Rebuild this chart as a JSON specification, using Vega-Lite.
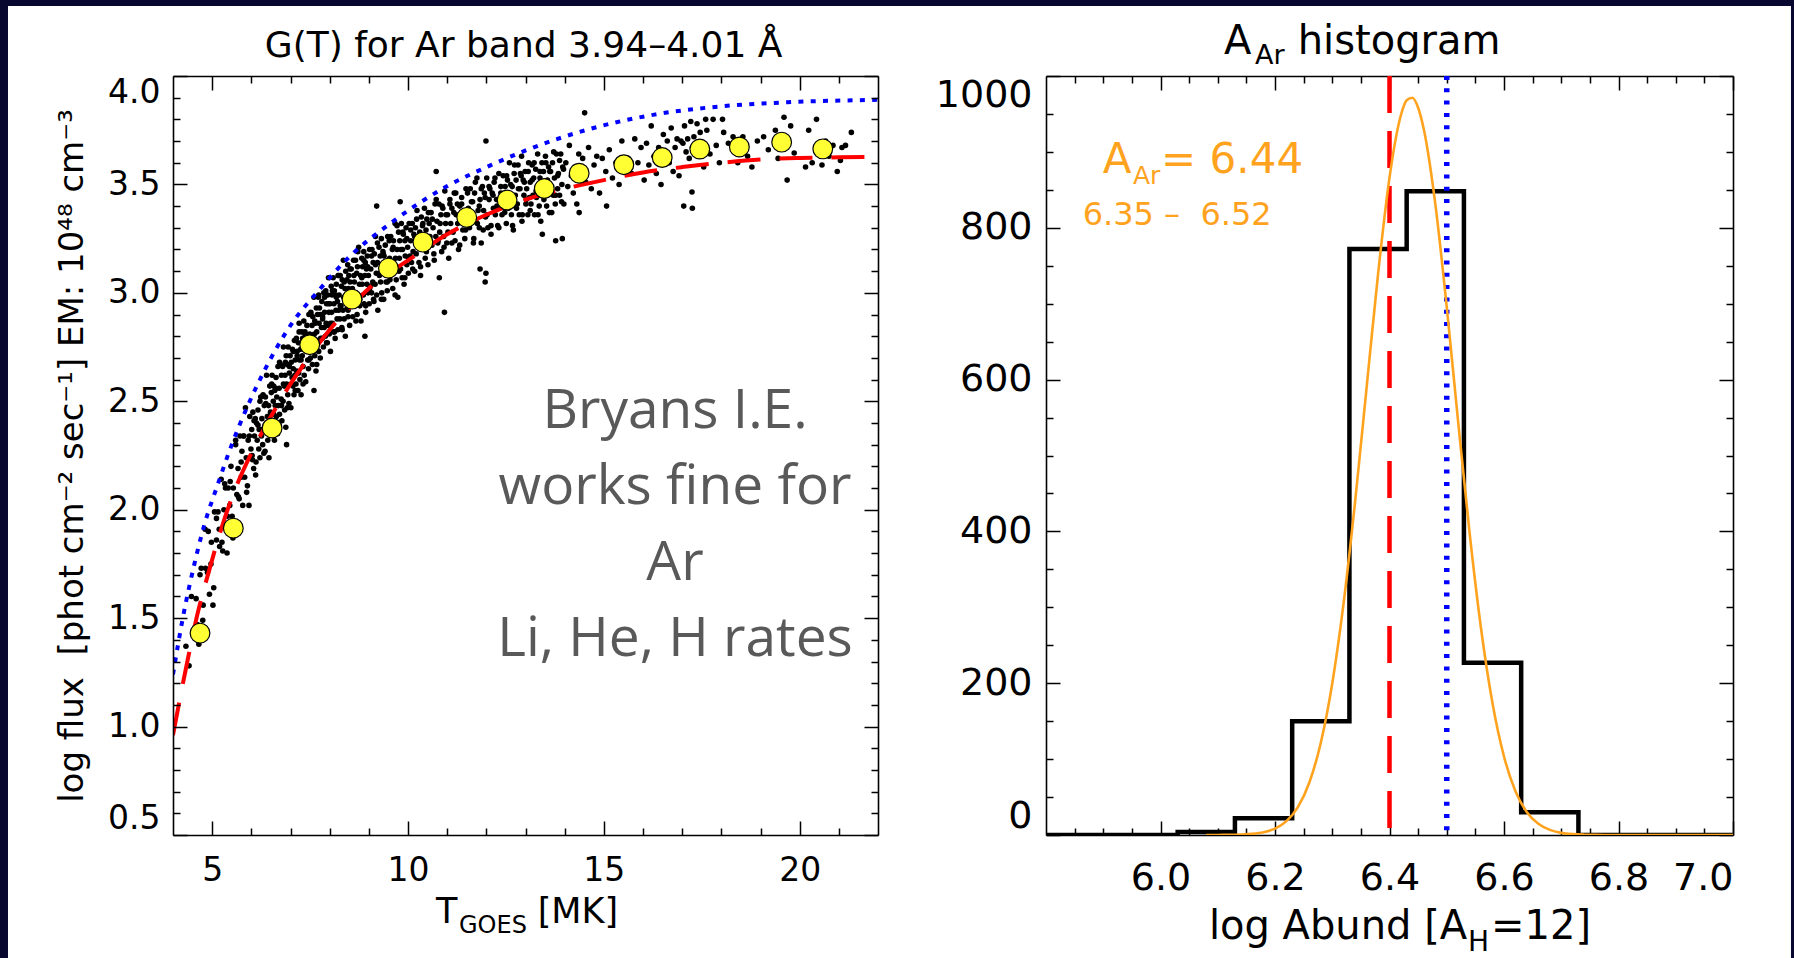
{
"$schema":"https://vega.github.io/schema/vega-lite/v6.json",
"background":"#07072f",
"padding":{"left":7,"top":5,"right":4,"bottom":0},
"autosize":{"type":"pad"},
"config":{"view":{"stroke":null},"axis":{"grid":false,"domainColor":"#000000","domainWidth":1.6,"tickColor":"#000000","tickWidth":1.5,"labelColor":"#000000","labelFont":"DejaVu Sans","titleFont":"DejaVu Sans","titleColor":"#000000","titleFontWeight":"normal","labelOverlap":false}},
"datasets":{
"pts":[
{"t":4.33,"f":1.37},{"t":4.41,"f":1.28},{"t":4.47,"f":1.60},
{"t":4.53,"f":1.43},{"t":4.59,"f":1.59},{"t":4.66,"f":1.38},{"t":4.72,"f":1.73},
{"t":4.77,"f":1.56},{"t":4.82,"f":1.91},{"t":4.88,"f":1.71},{"t":4.93,"f":1.61},{"t":4.98,"f":1.85},
{"t":5.02,"f":1.56},{"t":5.06,"f":1.99},{"t":5.11,"f":1.86},{"t":5.15,"f":1.99},{"t":5.19,"f":1.83},{"t":5.23,"f":2.14},
{"t":5.27,"f":1.81},{"t":5.30,"f":2.00},{"t":5.34,"f":2.10},{"t":5.38,"f":1.80},{"t":5.41,"f":2.10},{"t":5.45,"f":2.02},{"t":5.48,"f":2.20},
{"t":5.51,"f":1.97},{"t":5.54,"f":2.10},{"t":5.57,"f":1.93},{"t":5.60,"f":2.30},{"t":5.63,"f":2.07},{"t":5.66,"f":2.19},{"t":5.69,"f":2.05},{"t":5.71,"f":2.34},{"t":5.74,"f":2.15},
{"t":5.76,"f":2.27},{"t":5.78,"f":2.02},{"t":5.80,"f":2.34},{"t":5.83,"f":2.15},{"t":5.85,"f":2.47},{"t":5.87,"f":2.24},{"t":5.90,"f":2.11},{"t":5.92,"f":2.32},{"t":5.94,"f":2.02},{"t":5.96,"f":2.43},{"t":5.99,"f":2.28},
{"t":6.01,"f":2.37},{"t":6.03,"f":2.23},{"t":6.04,"f":2.45},{"t":6.06,"f":2.19},{"t":6.08,"f":2.34},{"t":6.10,"f":2.42},{"t":6.11,"f":2.16},{"t":6.13,"f":2.40},{"t":6.15,"f":2.32},{"t":6.17,"f":2.46},{"t":6.19,"f":2.28},{"t":6.20,"f":2.37},{"t":6.22,"f":2.24},{"t":6.24,"f":2.52},
{"t":6.26,"f":2.34},{"t":6.27,"f":2.42},{"t":6.29,"f":2.30},{"t":6.30,"f":2.53},{"t":6.32,"f":2.37},{"t":6.33,"f":2.48},{"t":6.35,"f":2.27},{"t":6.36,"f":2.52},{"t":6.38,"f":2.36},{"t":6.39,"f":2.62},{"t":6.41,"f":2.43},{"t":6.42,"f":2.32},{"t":6.44,"f":2.48},{"t":6.45,"f":2.24},{"t":6.47,"f":2.57},{"t":6.49,"f":2.45},
{"t":6.51,"f":2.54},{"t":6.52,"f":2.39},{"t":6.53,"f":2.62},{"t":6.55,"f":2.36},{"t":6.56,"f":2.50},{"t":6.57,"f":2.57},{"t":6.59,"f":2.32},{"t":6.60,"f":2.55},{"t":6.61,"f":2.48},{"t":6.63,"f":2.61},{"t":6.64,"f":2.43},{"t":6.65,"f":2.52},{"t":6.67,"f":2.39},{"t":6.68,"f":2.66},{"t":6.69,"f":2.48},{"t":6.71,"f":2.56},{"t":6.72,"f":2.44},{"t":6.74,"f":2.67},
{"t":6.76,"f":2.51},{"t":6.77,"f":2.62},{"t":6.78,"f":2.41},{"t":6.80,"f":2.66},{"t":6.81,"f":2.50},{"t":6.82,"f":2.75},{"t":6.84,"f":2.57},{"t":6.85,"f":2.46},{"t":6.86,"f":2.62},{"t":6.88,"f":2.38},{"t":6.89,"f":2.71},{"t":6.90,"f":2.58},{"t":6.92,"f":2.67},{"t":6.93,"f":2.53},{"t":6.94,"f":2.75},{"t":6.96,"f":2.49},{"t":6.97,"f":2.63},{"t":6.99,"f":2.71},
{"t":7.01,"f":2.47},{"t":7.02,"f":2.68},{"t":7.04,"f":2.61},{"t":7.05,"f":2.74},{"t":7.06,"f":2.57},{"t":7.07,"f":2.65},{"t":7.09,"f":2.53},{"t":7.10,"f":2.78},{"t":7.11,"f":2.62},{"t":7.12,"f":2.69},{"t":7.14,"f":2.58},{"t":7.15,"f":2.79},{"t":7.16,"f":2.64},{"t":7.17,"f":2.73},{"t":7.19,"f":2.55},{"t":7.20,"f":2.77},{"t":7.21,"f":2.63},{"t":7.22,"f":2.86},{"t":7.23,"f":2.69},{"t":7.24,"f":2.60},
{"t":7.26,"f":2.74},{"t":7.27,"f":2.53},{"t":7.29,"f":2.82},{"t":7.30,"f":2.71},{"t":7.31,"f":2.79},{"t":7.32,"f":2.66},{"t":7.34,"f":2.87},{"t":7.35,"f":2.62},{"t":7.36,"f":2.76},{"t":7.37,"f":2.82},{"t":7.39,"f":2.59},{"t":7.40,"f":2.80},{"t":7.41,"f":2.73},{"t":7.42,"f":2.85},{"t":7.44,"f":2.69},{"t":7.45,"f":2.77},{"t":7.46,"f":2.65},{"t":7.47,"f":2.90},{"t":7.48,"f":2.73},{"t":7.49,"f":2.81},
{"t":7.51,"f":2.70},{"t":7.52,"f":2.91},{"t":7.54,"f":2.76},{"t":7.55,"f":2.85},{"t":7.56,"f":2.67},{"t":7.57,"f":2.89},{"t":7.59,"f":2.76},{"t":7.60,"f":2.98},{"t":7.61,"f":2.81},{"t":7.62,"f":2.71},{"t":7.64,"f":2.86},{"t":7.65,"f":2.64},{"t":7.66,"f":2.93},{"t":7.67,"f":2.82},{"t":7.69,"f":2.90},{"t":7.70,"f":2.78},{"t":7.71,"f":2.98},{"t":7.72,"f":2.73},{"t":7.73,"f":2.86},{"t":7.74,"f":2.93},
{"t":7.76,"f":2.70},{"t":7.77,"f":2.90},{"t":7.79,"f":2.84},{"t":7.80,"f":2.96},{"t":7.81,"f":2.79},{"t":7.82,"f":2.88},{"t":7.84,"f":2.75},{"t":7.85,"f":3.00},{"t":7.86,"f":2.84},{"t":7.87,"f":2.91},{"t":7.89,"f":2.80},{"t":7.90,"f":3.01},{"t":7.91,"f":2.86},{"t":7.92,"f":2.95},{"t":7.94,"f":2.77},{"t":7.95,"f":2.99},{"t":7.96,"f":2.85},{"t":7.97,"f":3.07},{"t":7.98,"f":2.91},{"t":7.99,"f":2.81},
{"t":8.01,"f":2.95},{"t":8.02,"f":2.73},{"t":8.04,"f":3.03},{"t":8.05,"f":2.91},{"t":8.06,"f":2.99},{"t":8.07,"f":2.86},{"t":8.09,"f":3.07},{"t":8.10,"f":2.82},{"t":8.11,"f":2.95},{"t":8.12,"f":3.01},{"t":8.14,"f":2.79},{"t":8.15,"f":2.99},{"t":8.16,"f":2.92},{"t":8.17,"f":3.04},{"t":8.19,"f":2.88},{"t":8.20,"f":2.96},{"t":8.21,"f":2.83},{"t":8.22,"f":3.08},{"t":8.23,"f":2.92},{"t":8.24,"f":2.99},
{"t":8.26,"f":2.88},{"t":8.27,"f":3.08},{"t":8.29,"f":2.94},{"t":8.30,"f":3.03},{"t":8.31,"f":2.84},{"t":8.32,"f":3.06},{"t":8.34,"f":2.92},{"t":8.35,"f":3.15},{"t":8.36,"f":2.98},{"t":8.37,"f":2.88},{"t":8.39,"f":3.02},{"t":8.40,"f":2.80},{"t":8.41,"f":3.10},{"t":8.42,"f":2.98},{"t":8.44,"f":3.06},{"t":8.45,"f":2.93},{"t":8.46,"f":3.13},{"t":8.47,"f":2.89},{"t":8.48,"f":3.02},{"t":8.49,"f":3.08},
{"t":8.51,"f":2.85},{"t":8.52,"f":3.05},{"t":8.54,"f":2.99},{"t":8.55,"f":3.11},{"t":8.57,"f":2.94},{"t":8.58,"f":3.02},{"t":8.59,"f":2.89},{"t":8.61,"f":3.15},{"t":8.62,"f":2.98},{"t":8.63,"f":3.05},{"t":8.65,"f":2.94},{"t":8.66,"f":3.15},{"t":8.67,"f":3.00},{"t":8.69,"f":3.09},{"t":8.70,"f":2.90},{"t":8.71,"f":3.12},{"t":8.73,"f":2.99},{"t":8.74,"f":3.21},
{"t":8.76,"f":3.04},{"t":8.77,"f":2.94},{"t":8.79,"f":3.08},{"t":8.80,"f":2.87},{"t":8.82,"f":3.16},{"t":8.83,"f":3.04},{"t":8.84,"f":3.12},{"t":8.86,"f":2.99},{"t":8.87,"f":3.19},{"t":8.88,"f":2.95},{"t":8.90,"f":3.08},{"t":8.91,"f":3.14},{"t":8.92,"f":2.91},{"t":8.94,"f":3.11},{"t":8.95,"f":3.04},{"t":8.96,"f":3.17},{"t":8.98,"f":3.00},{"t":8.99,"f":3.08},
{"t":9.01,"f":2.95},{"t":9.02,"f":3.20},{"t":9.04,"f":3.03},{"t":9.05,"f":3.11},{"t":9.07,"f":3.00},{"t":9.08,"f":3.20},{"t":9.10,"f":3.05},{"t":9.11,"f":3.14},{"t":9.13,"f":2.96},{"t":9.14,"f":3.18},{"t":9.16,"f":3.04},{"t":9.17,"f":3.26},{"t":9.19,"f":3.09},{"t":9.20,"f":2.99},{"t":9.22,"f":3.14},{"t":9.23,"f":2.92},
{"t":9.26,"f":3.21},{"t":9.27,"f":3.09},{"t":9.29,"f":3.17},{"t":9.30,"f":3.05},{"t":9.32,"f":3.25},{"t":9.33,"f":3.00},{"t":9.35,"f":3.13},{"t":9.36,"f":3.19},{"t":9.38,"f":2.97},{"t":9.39,"f":3.17},{"t":9.41,"f":3.10},{"t":9.42,"f":3.22},{"t":9.44,"f":3.05},{"t":9.45,"f":3.13},{"t":9.47,"f":3.01},{"t":9.48,"f":3.26},
{"t":9.51,"f":3.09},{"t":9.53,"f":3.16},{"t":9.54,"f":3.06},{"t":9.56,"f":3.26},{"t":9.58,"f":3.11},{"t":9.60,"f":3.20},{"t":9.61,"f":3.02},{"t":9.63,"f":3.24},{"t":9.65,"f":3.10},{"t":9.67,"f":3.32},{"t":9.68,"f":3.16},{"t":9.70,"f":3.06},{"t":9.72,"f":3.20},{"t":9.74,"f":2.98},
{"t":9.76,"f":3.28},{"t":9.78,"f":3.16},{"t":9.79,"f":3.24},{"t":9.81,"f":3.11},{"t":9.83,"f":3.32},{"t":9.85,"f":3.07},{"t":9.86,"f":3.20},{"t":9.88,"f":3.27},{"t":9.90,"f":3.04},{"t":9.92,"f":3.24},{"t":9.93,"f":3.17},{"t":9.95,"f":3.30},{"t":9.97,"f":3.13},{"t":9.99,"f":3.21},
{"t":10.01,"f":3.09},{"t":10.03,"f":3.32},{"t":10.05,"f":3.17},{"t":10.07,"f":3.24},{"t":10.09,"f":3.14},{"t":10.11,"f":3.32},{"t":10.13,"f":3.19},{"t":10.15,"f":3.27},{"t":10.17,"f":3.10},{"t":10.19,"f":3.30},{"t":10.21,"f":3.18},{"t":10.23,"f":3.38},
{"t":10.26,"f":3.23},{"t":10.28,"f":3.14},{"t":10.30,"f":3.28},{"t":10.32,"f":3.08},{"t":10.34,"f":3.35},{"t":10.36,"f":3.24},{"t":10.38,"f":3.32},{"t":10.40,"f":3.21},{"t":10.42,"f":3.39},{"t":10.44,"f":3.16},{"t":10.46,"f":3.29},{"t":10.48,"f":3.34},
{"t":10.51,"f":3.13},{"t":10.54,"f":3.32},{"t":10.56,"f":3.26},{"t":10.59,"f":3.37},{"t":10.61,"f":3.22},{"t":10.64,"f":3.30},{"t":10.66,"f":3.18},{"t":10.69,"f":3.41},{"t":10.71,"f":3.26},{"t":10.74,"f":3.33},
{"t":10.76,"f":3.23},{"t":10.79,"f":3.41},{"t":10.81,"f":3.28},{"t":10.84,"f":3.36},{"t":10.86,"f":3.19},{"t":10.89,"f":3.39},{"t":10.91,"f":3.26},{"t":10.94,"f":3.47},{"t":10.96,"f":3.32},{"t":10.99,"f":3.23},
{"t":11.01,"f":3.36},{"t":11.04,"f":3.16},{"t":11.07,"f":3.43},{"t":11.09,"f":3.32},{"t":11.12,"f":3.39},{"t":11.15,"f":3.28},{"t":11.18,"f":3.46},{"t":11.20,"f":3.24},{"t":11.23,"f":3.36},
{"t":11.26,"f":3.41},{"t":11.29,"f":3.20},{"t":11.32,"f":3.40},{"t":11.34,"f":3.33},{"t":11.37,"f":3.44},{"t":11.40,"f":3.29},{"t":11.43,"f":3.36},{"t":11.45,"f":3.25},{"t":11.48,"f":3.48},
{"t":11.51,"f":3.32},{"t":11.54,"f":3.39},{"t":11.57,"f":3.30},{"t":11.59,"f":3.48},{"t":11.62,"f":3.34},{"t":11.65,"f":3.42},{"t":11.68,"f":3.25},{"t":11.70,"f":3.46},{"t":11.73,"f":3.33},
{"t":11.76,"f":3.53},{"t":11.79,"f":3.38},{"t":11.82,"f":3.30},{"t":11.84,"f":3.43},{"t":11.87,"f":3.23},{"t":11.90,"f":3.49},{"t":11.93,"f":3.38},{"t":11.95,"f":3.46},{"t":11.98,"f":3.35},
{"t":12.01,"f":3.53},{"t":12.04,"f":3.30},{"t":12.07,"f":3.43},{"t":12.09,"f":3.48},{"t":12.12,"f":3.27},{"t":12.15,"f":3.46},{"t":12.18,"f":3.39},{"t":12.20,"f":3.51},{"t":12.23,"f":3.36},
{"t":12.26,"f":3.43},{"t":12.29,"f":3.31},{"t":12.32,"f":3.55},{"t":12.34,"f":3.39},{"t":12.37,"f":3.46},{"t":12.40,"f":3.36},{"t":12.43,"f":3.54},{"t":12.45,"f":3.41},{"t":12.48,"f":3.49},
{"t":12.51,"f":3.32},{"t":12.54,"f":3.52},{"t":12.56,"f":3.39},{"t":12.59,"f":3.60},{"t":12.61,"f":3.45},{"t":12.64,"f":3.36},{"t":12.66,"f":3.49},{"t":12.69,"f":3.29},{"t":12.71,"f":3.55},{"t":12.74,"f":3.45},
{"t":12.76,"f":3.52},{"t":12.79,"f":3.41},{"t":12.81,"f":3.59},{"t":12.84,"f":3.36},{"t":12.86,"f":3.48},{"t":12.89,"f":3.54},{"t":12.91,"f":3.33},{"t":12.94,"f":3.52},{"t":12.96,"f":3.45},{"t":12.99,"f":3.56},
{"t":13.01,"f":3.41},{"t":13.03,"f":3.48},{"t":13.06,"f":3.36},{"t":13.08,"f":3.60},{"t":13.10,"f":3.44},{"t":13.12,"f":3.51},{"t":13.14,"f":3.41},{"t":13.17,"f":3.59},{"t":13.19,"f":3.45},{"t":13.21,"f":3.53},{"t":13.23,"f":3.36},
{"t":13.26,"f":3.57},{"t":13.28,"f":3.44},{"t":13.31,"f":3.64},{"t":13.33,"f":3.49},{"t":13.35,"f":3.40},{"t":13.37,"f":3.53},{"t":13.39,"f":3.33},{"t":13.42,"f":3.60},{"t":13.44,"f":3.49},{"t":13.46,"f":3.56},{"t":13.48,"f":3.45},
{"t":13.51,"f":3.63},{"t":13.54,"f":3.40},{"t":13.56,"f":3.52},{"t":13.59,"f":3.58},{"t":13.61,"f":3.37},{"t":13.64,"f":3.56},{"t":13.66,"f":3.49},{"t":13.69,"f":3.60},{"t":13.71,"f":3.45},{"t":13.74,"f":3.53},
{"t":13.76,"f":3.41},{"t":13.79,"f":3.64},{"t":13.82,"f":3.48},{"t":13.84,"f":3.55},{"t":13.87,"f":3.45},{"t":13.90,"f":3.64},{"t":13.93,"f":3.50},{"t":13.95,"f":3.58},{"t":13.98,"f":3.41},
{"t":14.03,"f":3.60},{"t":14.08,"f":3.49},{"t":14.12,"f":3.68},{"t":14.17,"f":3.54},{"t":14.22,"f":3.46},{"t":14.26,"f":3.58},{"t":14.31,"f":3.41},{"t":14.36,"f":3.64},{"t":14.41,"f":3.54},{"t":14.46,"f":3.62},
{"t":14.54,"f":3.51},{"t":14.61,"f":3.67},{"t":14.68,"f":3.48},{"t":14.75,"f":3.59},{"t":14.82,"f":3.63},{"t":14.89,"f":3.46},{"t":14.96,"f":3.62},
{"t":15.05,"f":3.56},{"t":15.14,"f":3.66},{"t":15.22,"f":3.53},{"t":15.31,"f":3.60},{"t":15.39,"f":3.50},{"t":15.46,"f":3.70},
{"t":15.54,"f":3.57},{"t":15.62,"f":3.62},{"t":15.71,"f":3.55},{"t":15.79,"f":3.71},{"t":15.87,"f":3.60},{"t":15.95,"f":3.67},
{"t":16.03,"f":3.52},{"t":16.09,"f":3.69},{"t":16.15,"f":3.59},{"t":16.21,"f":3.77},{"t":16.28,"f":3.63},{"t":16.34,"f":3.55},{"t":16.40,"f":3.67},{"t":16.46,"f":3.50},
{"t":16.52,"f":3.73},{"t":16.57,"f":3.63},{"t":16.62,"f":3.70},{"t":16.67,"f":3.60},{"t":16.72,"f":3.76},{"t":16.77,"f":3.56},{"t":16.82,"f":3.67},{"t":16.87,"f":3.71},{"t":16.92,"f":3.54},{"t":16.97,"f":3.70},
{"t":17.02,"f":3.69},{"t":17.06,"f":3.77},{"t":17.10,"f":3.65},{"t":17.14,"f":3.71},{"t":17.18,"f":3.62},{"t":17.22,"f":3.79},{"t":17.26,"f":3.67},{"t":17.30,"f":3.72},{"t":17.34,"f":3.64},{"t":17.38,"f":3.78},{"t":17.42,"f":3.68},{"t":17.46,"f":3.74},
{"t":17.55,"f":3.58},{"t":17.63,"f":3.75},{"t":17.71,"f":3.64},{"t":17.79,"f":3.80},{"t":17.87,"f":3.68},{"t":17.95,"f":3.60},
{"t":18.06,"f":3.74},{"t":18.18,"f":3.69},{"t":18.30,"f":3.72},{"t":18.42,"f":3.60},
{"t":18.55,"f":3.72},{"t":18.67,"f":3.63},{"t":18.78,"f":3.58},{"t":18.92,"f":3.70},
{"t":19.08,"f":3.72},{"t":19.20,"f":3.66},{"t":19.38,"f":3.75},{"t":19.45,"f":3.62},
{"t":19.60,"f":3.81},{"t":19.77,"f":3.77},{"t":19.86,"f":3.645},
{"t":20.15,"f":3.58},{"t":20.23,"f":3.75},{"t":20.32,"f":3.60},{"t":20.43,"f":3.80},
{"t":20.57,"f":3.59},{"t":20.66,"f":3.70},{"t":20.75,"f":3.63},{"t":20.85,"f":3.68},{"t":20.96,"f":3.56},
{"t":21.04,"f":3.61},{"t":21.08,"f":3.67},{"t":21.17,"f":3.68},{"t":21.32,"f":3.74},
{"t":10.93,"f":2.91},{"t":11.99,"f":3.09},{"t":11.97,"f":3.05},{"t":11.84,"f":3.11},{"t":10.80,"f":3.07},{"t":11.99,"f":3.70},{"t":10.72,"f":3.56},{"t":17.04,"f":3.40},{"t":17.26,"f":3.39},{"t":17.25,"f":3.465},{"t":19.68,"f":3.52},{"t":15.07,"f":3.40},{"t":14.37,"f":3.37},{"t":13.43,"f":3.27},{"t":13.77,"f":3.24},{"t":13.94,"f":3.25},{"t":14.51,"f":3.83},{"t":18.03,"f":3.80},{"t":17.60,"f":3.80},{"t":12.90,"f":3.63},{"t":9.20,"f":3.40},{"t":8.90,"f":2.80},{"t":7.60,"f":2.55},{"t":9.80,"f":3.42},{"t":6.90,"f":2.30},
{"t":4.62,"f":1.47},{"t":4.69,"f":1.70},{"t":4.76,"f":1.49},{"t":4.83,"f":1.73},{"t":4.90,"f":1.90},{"t":4.97,"f":1.75},{"t":5.04,"f":1.64},{"t":5.11,"f":1.96},{"t":5.18,"f":1.91},{"t":5.25,"f":1.85},{"t":5.32,"f":2.12},{"t":5.39,"f":1.97},{"t":5.46,"f":2.13},{"t":5.53,"f":1.87},{"t":5.60,"f":2.32},{"t":5.67,"f":2.06},{"t":5.74,"f":2.22},{"t":5.81,"f":2.34},{"t":5.88,"f":2.08},{"t":5.95,"f":2.34},
{"t":6.02,"f":2.25},{"t":6.07,"f":2.41},{"t":6.12,"f":2.22},{"t":6.17,"f":2.39},{"t":6.22,"f":2.50},{"t":6.27,"f":2.37},{"t":6.32,"f":2.26},{"t":6.37,"f":2.49},{"t":6.42,"f":2.43},{"t":6.47,"f":2.37},
{"t":6.52,"f":2.58},{"t":6.57,"f":2.44},{"t":6.62,"f":2.56},{"t":6.67,"f":2.35},{"t":6.72,"f":2.68},{"t":6.77,"f":2.48},{"t":6.82,"f":2.58},{"t":6.87,"f":2.68},{"t":6.92,"f":2.47},{"t":6.97,"f":2.66},
{"t":7.02,"f":2.58},{"t":7.07,"f":2.73},{"t":7.12,"f":2.55},{"t":7.17,"f":2.71},{"t":7.22,"f":2.82},{"t":7.27,"f":2.69},{"t":7.32,"f":2.58},{"t":7.37,"f":2.81},{"t":7.42,"f":2.75},{"t":7.47,"f":2.69},
{"t":7.52,"f":2.90},{"t":7.57,"f":2.76},{"t":7.62,"f":2.87},{"t":7.67,"f":2.67},{"t":7.72,"f":2.99},{"t":7.77,"f":2.79},{"t":7.82,"f":2.89},{"t":7.87,"f":2.98},{"t":7.92,"f":2.77},{"t":7.97,"f":2.95},
{"t":8.02,"f":2.86},{"t":8.07,"f":3.01},{"t":8.12,"f":2.82},{"t":8.17,"f":2.98},{"t":8.22,"f":3.08},{"t":8.27,"f":2.94},{"t":8.32,"f":2.83},{"t":8.37,"f":3.05},{"t":8.42,"f":2.99},{"t":8.47,"f":2.92},
{"t":8.52,"f":3.11},{"t":8.57,"f":2.97},{"t":8.62,"f":3.08},{"t":8.67,"f":2.87},{"t":8.72,"f":3.19},{"t":8.77,"f":2.97},{"t":8.82,"f":3.07},{"t":8.87,"f":3.15},{"t":8.92,"f":2.94},{"t":8.97,"f":3.12},
{"t":9.02,"f":3.02},{"t":9.07,"f":3.17},{"t":9.12,"f":2.97},{"t":9.17,"f":3.13},{"t":9.22,"f":3.23},{"t":9.27,"f":3.08},{"t":9.32,"f":2.97},{"t":9.37,"f":3.18},{"t":9.42,"f":3.12},{"t":9.47,"f":3.05},
{"t":9.52,"f":3.24},{"t":9.57,"f":3.10},{"t":9.62,"f":3.21},{"t":9.67,"f":2.99},{"t":9.72,"f":3.31},{"t":9.77,"f":3.10},{"t":9.82,"f":3.20},{"t":9.87,"f":3.28},{"t":9.92,"f":3.07},{"t":9.97,"f":3.25},
{"t":10.02,"f":3.16},{"t":10.07,"f":3.29},{"t":10.12,"f":3.11},{"t":10.17,"f":3.26},{"t":10.22,"f":3.34},{"t":10.27,"f":3.22},{"t":10.32,"f":3.12},{"t":10.37,"f":3.31},{"t":10.42,"f":3.26},{"t":10.47,"f":3.19},
{"t":10.52,"f":3.37},{"t":10.57,"f":3.24},{"t":10.62,"f":3.34},{"t":10.67,"f":3.15},{"t":10.72,"f":3.43},{"t":10.77,"f":3.24},{"t":10.82,"f":3.32},{"t":10.87,"f":3.40},{"t":10.92,"f":3.21},{"t":10.97,"f":3.36},
{"t":11.02,"f":3.28},{"t":11.07,"f":3.41},{"t":11.12,"f":3.23},{"t":11.17,"f":3.37},{"t":11.22,"f":3.46},{"t":11.27,"f":3.32},{"t":11.32,"f":3.22},{"t":11.37,"f":3.41},{"t":11.42,"f":3.35},{"t":11.47,"f":3.29},
{"t":11.52,"f":3.46},{"t":11.57,"f":3.33},{"t":11.62,"f":3.42},{"t":11.67,"f":3.23},{"t":11.72,"f":3.51},{"t":11.77,"f":3.32},{"t":11.82,"f":3.40},{"t":11.87,"f":3.48},{"t":11.92,"f":3.29},{"t":11.97,"f":3.44},
{"t":12.02,"f":3.36},{"t":12.07,"f":3.49},{"t":12.12,"f":3.31},{"t":12.17,"f":3.45},{"t":12.22,"f":3.53},{"t":12.27,"f":3.40},{"t":12.32,"f":3.30},{"t":12.37,"f":3.49},{"t":12.42,"f":3.43},{"t":12.47,"f":3.37},
{"t":12.52,"f":3.54},{"t":12.57,"f":3.41},{"t":12.62,"f":3.50},{"t":12.67,"f":3.31},{"t":12.72,"f":3.59},{"t":12.77,"f":3.39},{"t":12.82,"f":3.48},{"t":12.87,"f":3.55},{"t":12.92,"f":3.36},{"t":12.97,"f":3.51},
{"t":13.02,"f":3.43},{"t":13.07,"f":3.56},{"t":13.12,"f":3.38},{"t":13.17,"f":3.52},{"t":13.22,"f":3.60},{"t":13.27,"f":3.47},{"t":13.32,"f":3.36},{"t":13.37,"f":3.56},{"t":13.42,"f":3.50},{"t":13.47,"f":3.43},
{"t":13.52,"f":3.60},{"t":13.57,"f":3.47},{"t":13.62,"f":3.56},{"t":13.67,"f":3.37},{"t":13.72,"f":3.65},{"t":13.77,"f":3.45},{"t":13.82,"f":3.54},{"t":13.87,"f":3.61},{"t":13.92,"f":3.42},{"t":13.97,"f":3.57}
],
"circ":[{"t":4.69,"f":1.431},{"t":5.54,"f":1.915},{"t":6.53,"f":2.377},{"t":7.49,"f":2.761},{"t":8.57,"f":2.971},{"t":9.50,"f":3.114},{"t":10.38,"f":3.234},{"t":11.50,"f":3.348},{"t":12.53,"f":3.428},{"t":13.48,"f":3.481},{"t":14.37,"f":3.552},{"t":15.51,"f":3.591},{"t":16.49,"f":3.624},{"t":17.45,"f":3.663},{"t":18.46,"f":3.673},{"t":19.54,"f":3.695},{"t":20.59,"f":3.664}],
"red":[{"t":4.0,"f":0.96},{"t":4.2,"f":1.15},{"t":4.4,"f":1.33},{"t":4.6,"f":1.50},{"t":4.8,"f":1.64},{"t":5.0,"f":1.77},{"t":5.3,"f":1.95},{"t":5.6,"f":2.10},{"t":6.0,"f":2.26},{"t":6.5,"f":2.43},{"t":7.0,"f":2.58},{"t":7.5,"f":2.71},{"t":8.0,"f":2.83},{"t":8.5,"f":2.93},{"t":9.0,"f":3.02},{"t":9.5,"f":3.09},{"t":10,"f":3.15},{"t":11,"f":3.27},{"t":12,"f":3.36},{"t":13,"f":3.43},{"t":14,"f":3.48},{"t":15,"f":3.52},{"t":16,"f":3.555},{"t":17,"f":3.58},{"t":18,"f":3.60},{"t":19,"f":3.615},{"t":20,"f":3.622},{"t":21,"f":3.625},{"t":22,"f":3.627}],
"blue":[{"t":4.0,"f":1.24},{"t":4.25,"f":1.50},{"t":4.54,"f":1.745},{"t":4.8,"f":1.93},{"t":5.14,"f":2.115},{"t":5.48,"f":2.29},{"t":5.91,"f":2.48},{"t":6.33,"f":2.64},{"t":7.0,"f":2.85},{"t":7.74,"f":3.015},{"t":8.43,"f":3.153},{"t":9.62,"f":3.33},{"t":10.98,"f":3.49},{"t":12.13,"f":3.59},{"t":12.98,"f":3.655},{"t":14.59,"f":3.753},{"t":16.29,"f":3.822},{"t":17.99,"f":3.86},{"t":19.69,"f":3.879},{"t":22,"f":3.89}],
"hist":[{"a":5.8,"n":0},{"a":6.03,"n":4},{"a":6.13,"n":22},{"a":6.23,"n":150},{"a":6.33,"n":772},{"a":6.43,"n":848},{"a":6.53,"n":227},{"a":6.63,"n":30},{"a":6.73,"n":0},{"a":7.0,"n":0}],
"gauss":[{"a":6.08,"n":0.02},{"a":6.10,"n":0.07},{"a":6.12,"n":0.2},{"a":6.14,"n":0.6},{"a":6.16,"n":1.5},{"a":6.18,"n":3.7},{"a":6.20,"n":8.5},{"a":6.22,"n":18.3},{"a":6.24,"n":36.8},{"a":6.26,"n":69.2},{"a":6.28,"n":121.6},{"a":6.30,"n":199.7},{"a":6.32,"n":306.5},{"a":6.34,"n":439.6},{"a":6.36,"n":589.5},{"a":6.38,"n":739.1},{"a":6.40,"n":866.1},{"a":6.42,"n":948.6},{"a":6.43,"n":968},{"a":6.44,"n":971.3},{"a":6.45,"n":958.2},{"a":6.46,"n":929.6},{"a":6.48,"n":831.6},{"a":6.50,"n":695.5},{"a":6.52,"n":543.7},{"a":6.54,"n":397.3},{"a":6.56,"n":271.4},{"a":6.58,"n":173.3},{"a":6.60,"n":103.4},{"a":6.62,"n":57.7},{"a":6.64,"n":30.1},{"a":6.66,"n":14.7},{"a":6.68,"n":6.7},{"a":6.70,"n":2.8},{"a":6.72,"n":1.1},{"a":6.74,"n":0.4},{"a":6.76,"n":0.15},{"a":6.80,"n":0},{"a":7.0,"n":0}]
},
"bounds":"flush",
"spacing":168,
"hconcat":[
{
"width":705,"height":759,
"data":{"values":[{}]},
"resolve":{"axis":{"x":"independent","y":"independent"}},
"layer":[
{"mark":{"type":"rect","fill":"#ffffff","strokeWidth":0},
 "encoding":{"x":{"datum":-0.213,"type":"quantitative","scale":{"domain":[4,22],"nice":false,"zero":false},"axis":null},"x2":{"datum":45.31},
 "y":{"datum":4.3228,"type":"quantitative","scale":{"domain":[0.5,4],"nice":false,"zero":false},"axis":null},"y2":{"datum":-0.0718}}},
{"data":{"name":"pts"},"mark":{"type":"circle","color":"#000000","size":31,"opacity":1},
 "encoding":{"x":{"field":"t","type":"quantitative","scale":{"domain":[4,22],"nice":false,"zero":false},"axis":{"orient":"bottom","zindex":2,"values":[5,10,15,20],"format":"d","tickSize":-14,"labelPadding":33,"labelFontSize":33,"title":null}},
 "y":{"field":"f","type":"quantitative","scale":{"domain":[0.5,4],"nice":false,"zero":false},"axis":{"orient":"left","zindex":2,"values":[0.5,1,1.5,2,2.5,3,3.5,4],"format":".1f","tickSize":-14,"labelPadding":27,"labelFontSize":33,"labelFlush":true,"labelFlushOffset":0,"title":"log flux\u00a0 [phot cm⁻² sec⁻¹] EM: 10⁴⁸ cm⁻³","titleFontSize":34,"titlePadding":18}}}},
{"data":{"name":"blue"},"mark":{"type":"line","color":"#0000ff","strokeWidth":4,"strokeDash":[5,7.3],"interpolate":"monotone","clip":true},
 "encoding":{"x":{"field":"t","type":"quantitative","scale":{"domain":[4,22],"nice":false,"zero":false},"axis":{"orient":"bottom","zindex":2,"values":[6,7,8,9,11,12,13,14,16,17,18,19,21],"tickSize":-7,"labels":false,"domain":false,"title":null}},
 "y":{"field":"f","type":"quantitative","scale":{"domain":[0.5,4],"nice":false,"zero":false},"axis":{"orient":"left","zindex":2,"values":[0.6,0.7,0.8,0.9,1.1,1.2,1.3,1.4,1.6,1.7,1.8,1.9,2.1,2.2,2.3,2.4,2.6,2.7,2.8,2.9,3.1,3.2,3.3,3.4,3.6,3.7,3.8,3.9],"tickSize":-7,"labels":false,"domain":false,"title":null}}}},
{"data":{"name":"red"},"mark":{"type":"line","color":"#ff0000","strokeWidth":4,"strokeDash":[33,19],"interpolate":"monotone","clip":true},
 "encoding":{"x":{"field":"t","type":"quantitative","scale":{"domain":[4,22],"nice":false,"zero":false},"axis":{"orient":"top","zindex":2,"values":[5,10,15,20],"tickSize":-14,"labels":false,"title":null}},
 "y":{"field":"f","type":"quantitative","scale":{"domain":[0.5,4],"nice":false,"zero":false},"axis":{"orient":"right","zindex":2,"values":[0.5,1,1.5,2,2.5,3,3.5,4],"tickSize":-14,"labels":false,"title":null}}}},
{"data":{"name":"circ"},"mark":{"type":"point","shape":"circle","filled":true,"fill":"#ffff33","stroke":"#000000","strokeWidth":1.2,"size":390,"opacity":1},
 "encoding":{"x":{"field":"t","type":"quantitative","scale":{"domain":[4,22],"nice":false,"zero":false},"axis":{"orient":"top","zindex":2,"values":[6,7,8,9,11,12,13,14,16,17,18,19,21],"tickSize":-7,"labels":false,"domain":false,"title":null}},
 "y":{"field":"f","type":"quantitative","scale":{"domain":[0.5,4],"nice":false,"zero":false},"axis":{"orient":"right","zindex":2,"values":[0.6,0.7,0.8,0.9,1.1,1.2,1.3,1.4,1.6,1.7,1.8,1.9,2.1,2.2,2.3,2.4,2.6,2.7,2.8,2.9,3.1,3.2,3.3,3.4,3.6,3.7,3.8,3.9],"tickSize":-7,"labels":false,"domain":false,"title":null}}}},
{"mark":{"type":"text","text":["Bryans I.E.","works fine for","Ar","Li, He, H rates"],"font":"Open Sans","fontSize":55,"lineHeight":76,"align":"center","baseline":"alphabetic","color":"#595959"},
 "encoding":{"x":{"datum":16.817,"type":"quantitative","scale":{"domain":[4,22],"nice":false,"zero":false},"axis":null},"y":{"datum":2.376,"type":"quantitative","scale":{"domain":[0.5,4],"nice":false,"zero":false},"axis":null}}},
{"mark":{"type":"text","text":"G(T) for Ar band 3.94–4.01 Å","font":"DejaVu Sans","fontSize":36,"align":"center","baseline":"alphabetic","color":"#000000"},
 "encoding":{"x":{"datum":12.95,"type":"quantitative","scale":{"domain":[4,22],"nice":false,"zero":false},"axis":null},"y":{"datum":4.0876,"type":"quantitative","scale":{"domain":[0.5,4],"nice":false,"zero":false},"axis":null}}},
{"mark":{"type":"text","text":"T","font":"DejaVu Sans","fontSize":35,"align":"left","baseline":"alphabetic","color":"#000000"},
 "encoding":{"x":{"datum":10.715,"type":"quantitative","scale":{"domain":[4,22],"nice":false,"zero":false},"axis":null},"y":{"datum":0.0956,"type":"quantitative","scale":{"domain":[0.5,4],"nice":false,"zero":false},"axis":null}}},
{"mark":{"type":"text","text":"GOES","font":"DejaVu Sans","fontSize":24,"align":"left","baseline":"alphabetic","color":"#000000"},
 "encoding":{"x":{"datum":11.302,"type":"quantitative","scale":{"domain":[4,22],"nice":false,"zero":false},"axis":null},"y":{"datum":0.0495,"type":"quantitative","scale":{"domain":[0.5,4],"nice":false,"zero":false},"axis":null}}},
{"mark":{"type":"text","text":"[MK]","font":"DejaVu Sans","fontSize":35,"align":"left","baseline":"alphabetic","color":"#000000"},
 "encoding":{"x":{"datum":13.311,"type":"quantitative","scale":{"domain":[4,22],"nice":false,"zero":false},"axis":null},"y":{"datum":0.0956,"type":"quantitative","scale":{"domain":[0.5,4],"nice":false,"zero":false},"axis":null}}}
]
},
{
"width":687,"height":759,
"data":{"values":[{}]},
"resolve":{"axis":{"x":"independent","y":"independent"}},
"layer":[
{"data":{"name":"hist"},"mark":{"type":"line","color":"#000000","strokeWidth":4.5,"interpolate":"step-after","clip":true},
 "encoding":{"x":{"field":"a","type":"quantitative","scale":{"domain":[5.8,7.0],"nice":false,"zero":false},"axis":{"orient":"bottom","values":[6.0,6.2,6.4,6.6,6.8,7.0],"format":".1f","tickSize":-14,"labelPadding":38,"labelFontSize":38,"title":null}},
 "y":{"field":"n","type":"quantitative","scale":{"domain":[0,1000],"nice":false,"zero":false},"axis":{"orient":"left","values":[0,200,400,600,800,1000],"format":"d","tickSize":-14,"labelPadding":28,"labelFontSize":38,"labelFlush":true,"labelFlushOffset":0,"title":null}}}},
{"mark":{"type":"rule","color":"#ff0000","strokeWidth":4.5,"strokeDash":[37,18]},
 "encoding":{"x":{"datum":6.4,"type":"quantitative","scale":{"domain":[5.8,7.0],"nice":false,"zero":false},"axis":null},"y":{"datum":1000,"type":"quantitative","scale":{"domain":[0,1000],"nice":false,"zero":false},"axis":null},"y2":{"datum":0}}},
{"mark":{"type":"rule","color":"#0000ff","strokeWidth":5.5,"strokeDash":[4,8.3]},
 "encoding":{"x":{"datum":6.5,"type":"quantitative","scale":{"domain":[5.8,7.0],"nice":false,"zero":false},"axis":null},"y":{"datum":1000,"type":"quantitative","scale":{"domain":[0,1000],"nice":false,"zero":false},"axis":null},"y2":{"datum":0}}},
{"data":{"name":"gauss"},"mark":{"type":"line","color":"#ffa31f","strokeWidth":2.6,"interpolate":"monotone","clip":true},
 "encoding":{"x":{"field":"a","type":"quantitative","scale":{"domain":[5.8,7.0],"nice":false,"zero":false},"axis":{"orient":"bottom","values":[5.85,5.9,5.95,6.05,6.1,6.15,6.25,6.3,6.35,6.45,6.5,6.55,6.65,6.7,6.75,6.85,6.9,6.95],"tickSize":-7,"labels":false,"domain":false,"title":null}},
 "y":{"field":"n","type":"quantitative","scale":{"domain":[0,1000],"nice":false,"zero":false},"axis":{"orient":"left","values":[50,100,150,250,300,350,450,500,550,650,700,750,850,900,950],"tickSize":-7,"labels":false,"domain":false,"title":null}}}},
{"data":{"name":"hist"},"mark":{"type":"line","opacity":0},
 "encoding":{"x":{"field":"a","type":"quantitative","scale":{"domain":[5.8,7.0],"nice":false,"zero":false},"axis":{"orient":"top","values":[6.0,6.2,6.4,6.6,6.8,7.0],"tickSize":-14,"labels":false,"title":null}},
 "y":{"field":"n","type":"quantitative","scale":{"domain":[0,1000],"nice":false,"zero":false},"axis":{"orient":"right","values":[0,200,400,600,800,1000],"tickSize":-14,"labels":false,"title":null}}}},
{"data":{"name":"gauss"},"mark":{"type":"line","opacity":0},
 "encoding":{"x":{"field":"a","type":"quantitative","scale":{"domain":[5.8,7.0],"nice":false,"zero":false},"axis":{"orient":"top","values":[5.85,5.9,5.95,6.05,6.1,6.15,6.25,6.3,6.35,6.45,6.5,6.55,6.65,6.7,6.75,6.85,6.9,6.95],"tickSize":-7,"labels":false,"domain":false,"title":null}},
 "y":{"field":"n","type":"quantitative","scale":{"domain":[0,1000],"nice":false,"zero":false},"axis":{"orient":"right","values":[50,100,150,250,300,350,450,500,550,650,700,750,850,900,950],"tickSize":-7,"labels":false,"domain":false,"title":null}}}},
{"mark":{"type":"text","text":"A","font":"DejaVu Sans","fontSize":40,"align":"left","baseline":"alphabetic","color":"#000000"},
 "encoding":{"x":{"datum":6.111,"type":"quantitative","scale":{"domain":[5.8,7.0],"nice":false,"zero":false},"axis":null},"y":{"datum":1028.6,"type":"quantitative","scale":{"domain":[0,1000],"nice":false,"zero":false},"axis":null}}},
{"mark":{"type":"text","text":"Ar","font":"DejaVu Sans","fontSize":27,"align":"left","baseline":"alphabetic","color":"#000000"},
 "encoding":{"x":{"datum":6.165,"type":"quantitative","scale":{"domain":[5.8,7.0],"nice":false,"zero":false},"axis":null},"y":{"datum":1015.4,"type":"quantitative","scale":{"domain":[0,1000],"nice":false,"zero":false},"axis":null}}},
{"mark":{"type":"text","text":"histogram","font":"DejaVu Sans","fontSize":40,"align":"left","baseline":"alphabetic","color":"#000000"},
 "encoding":{"x":{"datum":6.2397,"type":"quantitative","scale":{"domain":[5.8,7.0],"nice":false,"zero":false},"axis":null},"y":{"datum":1028.6,"type":"quantitative","scale":{"domain":[0,1000],"nice":false,"zero":false},"axis":null}}},
{"mark":{"type":"text","text":"A","font":"DejaVu Sans","fontSize":42,"align":"left","baseline":"alphabetic","color":"#ffa31f"},
 "encoding":{"x":{"datum":5.899,"type":"quantitative","scale":{"domain":[5.8,7.0],"nice":false,"zero":false},"axis":null},"y":{"datum":872.6,"type":"quantitative","scale":{"domain":[0,1000],"nice":false,"zero":false},"axis":null}}},
{"mark":{"type":"text","text":"Ar","font":"DejaVu Sans","fontSize":25,"align":"left","baseline":"alphabetic","color":"#ffa31f"},
 "encoding":{"x":{"datum":5.952,"type":"quantitative","scale":{"domain":[5.8,7.0],"nice":false,"zero":false},"axis":null},"y":{"datum":857.3,"type":"quantitative","scale":{"domain":[0,1000],"nice":false,"zero":false},"axis":null}}},
{"mark":{"type":"text","text":"= 6.44","font":"DejaVu Sans","fontSize":42,"align":"left","baseline":"alphabetic","color":"#ffa31f"},
 "encoding":{"x":{"datum":6.001,"type":"quantitative","scale":{"domain":[5.8,7.0],"nice":false,"zero":false},"axis":null},"y":{"datum":872.6,"type":"quantitative","scale":{"domain":[0,1000],"nice":false,"zero":false},"axis":null}}},
{"mark":{"type":"text","text":"6.35 – \u00a06.52","font":"DejaVu Sans","fontSize":32,"align":"left","baseline":"alphabetic","color":"#ffa31f"},
 "encoding":{"x":{"datum":5.864,"type":"quantitative","scale":{"domain":[5.8,7.0],"nice":false,"zero":false},"axis":null},"y":{"datum":803.7,"type":"quantitative","scale":{"domain":[0,1000],"nice":false,"zero":false},"axis":null}}},
{"mark":{"type":"text","text":"log Abund [A","font":"DejaVu Sans","fontSize":40,"align":"left","baseline":"alphabetic","color":"#000000"},
 "encoding":{"x":{"datum":6.0845,"type":"quantitative","scale":{"domain":[5.8,7.0],"nice":false,"zero":false},"axis":null},"y":{"datum":-137.4,"type":"quantitative","scale":{"domain":[0,1000],"nice":false,"zero":false},"axis":null}}},
{"mark":{"type":"text","text":"H","font":"DejaVu Sans","fontSize":28,"align":"left","baseline":"alphabetic","color":"#000000"},
 "encoding":{"x":{"datum":6.537,"type":"quantitative","scale":{"domain":[5.8,7.0],"nice":false,"zero":false},"axis":null},"y":{"datum":-152.8,"type":"quantitative","scale":{"domain":[0,1000],"nice":false,"zero":false},"axis":null}}},
{"mark":{"type":"text","text":"=12]","font":"DejaVu Sans","fontSize":40,"align":"left","baseline":"alphabetic","color":"#000000"},
 "encoding":{"x":{"datum":6.5773,"type":"quantitative","scale":{"domain":[5.8,7.0],"nice":false,"zero":false},"axis":null},"y":{"datum":-137.4,"type":"quantitative","scale":{"domain":[0,1000],"nice":false,"zero":false},"axis":null}}}
]
}
]
}
